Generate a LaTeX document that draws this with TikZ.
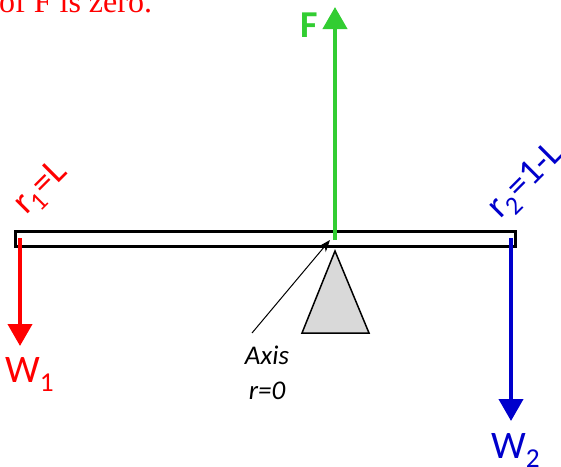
\documentclass[tikz,border=0pt]{standalone}
\usepackage{fontspec}
\setmainfont{Carlito}
\newfontfamily\timesfont{Liberation Serif}
\usetikzlibrary{arrows.meta,positioning}
\definecolor{wred}{RGB}{255,0,0}
\definecolor{wblue}{RGB}{0,0,204}
\definecolor{fgreen}{RGB}{50,205,50}
\definecolor{pivotgray}{RGB}{217,217,217}
\begin{document}
\begin{tikzpicture}[x=1pt, y=-1pt,
  force/.style={line width=4pt, -{Triangle[width=24pt, length=22pt]}, draw=#1},
  lbl/.style={font=\fontsize{39}{41}\selectfont, text=#1, inner sep=0pt},
  dist/.style={font=\fontsize{37}{39}\selectfont, text=#1, inner sep=0pt, rotate=45}]
\useasboundingbox (0,0) rectangle (561,466);
% beam and pivot
\node[draw, line width=3pt, minimum width=500pt, minimum height=15pt, inner sep=0pt] (beam) at (265,239) {};
\draw[fill=pivotgray, line width=1.5pt] (335,251) coordinate (apex) -- (369,333) -- (302,333) -- cycle;
% forces
\coordinate (w1s) at (20,238);
\coordinate (w1e) at (20,346);
\coordinate (w2s) at (511,238);
\coordinate (w2e) at (511,421);
\coordinate (fs) at (335,240);
\coordinate (fe) at (335,7);
\draw[force=wred] (w1s) -- (w1e);
\draw[force=wblue] (w2s) -- (w2e);
\draw[force=fgreen] (fs) -- (fe);
\node[lbl=wred, anchor=north west] (w1) at (5,357) {W\textsubscript{1}};
\node[lbl=wblue, anchor=north west] (w2) at (491,433) {W\textsubscript{2}};
\node[lbl=fgreen, font=\fontsize{38}{40}\selectfont\bfseries, anchor=north west] (f) at (300,13) {F};
% distances
\node[dist=wred] (r1) at (42,189) {r\textsubscript{1}=L};
\node[dist=wblue] (r2) at (527,182) {r\textsubscript{2}=1-L};
% axis
\node[font=\fontsize{27}{35}\selectfont\itshape, align=center, inner sep=0pt] (axis) at (267,373) {Axis\\r=0};
\coordinate (axtip) at (330,240);
\draw[-{Stealth[length=12pt, width=9pt]}, line width=1pt] (252,333) -- (axtip);
% caption fragment
\node[font=\timesfont\fontsize{32}{34}\selectfont, text=wred, anchor=base west, inner sep=0pt] (cap) at (-1,12.5) {of F is zero.};
\end{tikzpicture}
\end{document}
